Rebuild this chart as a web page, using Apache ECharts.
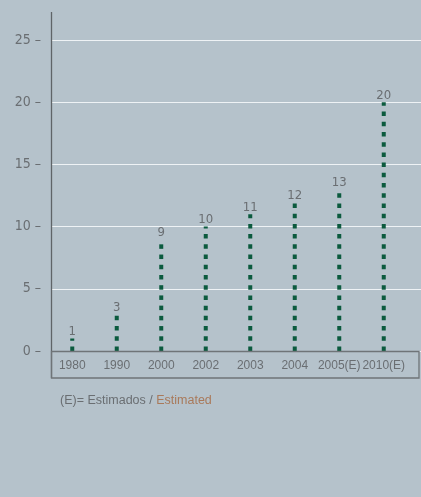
<!DOCTYPE html>
<html>
<head>
<meta charset="utf-8">
<script src="https://cdn.jsdelivr.net/npm/echarts@6/dist/echarts.min.js"></script>
<style>
html,body{margin:0;padding:0;background:#b5c2cb;}
#chart{width:421px;height:497px;}
</style>
</head>
<body>
<div id="chart"></div>
<script>
var categories = ['1980', '1990', '2000', '2002', '2003', '2004', '2005(E)', '2010(E)'];
var values = [1, 3, 9, 10, 11, 12, 13, 20];
var yTicks = [0, 5, 10, 15, 20, 25];
var noteMain = '(E)= Estimados / ';
var noteEn = 'Estimated';

var gray = '#6a6e72';
var narrow = '"Liberation Sans Narrow","DejaVu Sans Condensed","Roboto",sans-serif';
var regular = '"Liberation Sans","Roboto",sans-serif';

var chart = echarts.init(document.getElementById('chart'), null, {renderer: 'canvas'});
chart.setOption({
  backgroundColor: '#b5c2cb',
  animation: false,
  grid: [
    {left: 51, right: 0, top: 40, bottom: 146},
    {left: 50, right: 15, top: 40, bottom: 146}
  ],
  title: {
    left: 55, top: 389,
    text: '{a|' + noteMain + '}{b|' + noteEn + '}',
    textStyle: {
      fontWeight: 'normal',
      rich: {
        a: {color: gray, fontSize: 12.5, fontWeight: 'normal', fontFamily: regular},
        b: {color: '#a9795a', fontSize: 12.5, fontWeight: 'normal', fontFamily: regular}
      }
    }
  },
  xAxis: [
    {gridIndex: 0, type: 'category', data: categories, show: false},
    {
      gridIndex: 1, type: 'category', data: categories,
      axisLine: {show: false}, axisTick: {show: false},
      axisLabel: {color: gray, fontSize: 12, fontFamily: regular, margin: 9, interval: 0}
    }
  ],
  yAxis: [
    {
      gridIndex: 0, type: 'value', min: yTicks[0], max: yTicks[yTicks.length - 1], interval: 5,
      axisLine: {show: false}, axisTick: {show: false},
      splitLine: {show: true, lineStyle: {color: '#eef2f5', width: 1}},
      axisLabel: {color: gray, fontSize: 14, fontFamily: narrow, margin: 10,
        formatter: function (v) { return v + ' \u2013'; }}
    },
    {
      gridIndex: 1, type: 'value', min: yTicks[0], max: yTicks[yTicks.length - 1], interval: 5,
      show: false, splitLine: {show: false}
    }
  ],
  graphic: [
    {type: 'line', z: 10, shape: {x1: 51.5, y1: 12, x2: 51.5, y2: 378},
     style: {stroke: '#5f6468', lineWidth: 1.3}},
    {type: 'rect', z: 10, shape: {x: 51.5, y: 351.5, width: 367.5, height: 26.5},
     style: {stroke: '#6f7478', lineWidth: 1.3, fill: null}}
  ],
  series: [
    {
      type: 'pictorialBar',
      xAxisIndex: 1, yAxisIndex: 1,
      data: values,
      symbol: 'rect',
      symbolSize: [4, 4.5],
      symbolRepeat: true,
      symbolMargin: 3,
      symbolPosition: 'start',
      symbolClip: true,
      itemStyle: {color: '#0b5a3e'}
    },
    {
      type: 'bar',
      xAxisIndex: 1, yAxisIndex: 1,
      data: values,
      barWidth: 4,
      itemStyle: {color: 'rgba(0,0,0,0)'},
      label: {show: true, position: 'top', distance: 0, color: gray, fontSize: 13, fontFamily: narrow}
    }
  ]
});
</script>
</body>
</html>
